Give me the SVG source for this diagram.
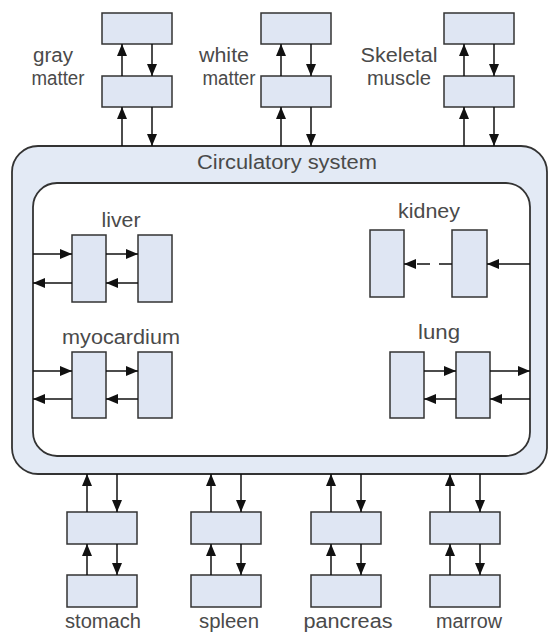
<svg xmlns="http://www.w3.org/2000/svg" width="549" height="635" viewBox="0 0 549 635">
<defs>
<marker id="ah" markerUnits="userSpaceOnUse" markerWidth="13" markerHeight="11" refX="12" refY="5" orient="auto">
<path d="M0,0 L12,5 L0,10 z" fill="#111"/>
</marker>
<style>
.box{fill:#dfe6f3;stroke:#333;stroke-width:1.5}
.band{fill:#e3eaf5;stroke:#333;stroke-width:1.8}
.inner{fill:#fff;stroke:#333;stroke-width:1.8}
.c line{stroke:#111;stroke-width:1.5;marker-end:url(#ah)}
.c line.d{stroke-dasharray:13,9}
text{font-family:"Liberation Sans",Arial,sans-serif;font-size:20px;fill:#4a4a4a;text-anchor:middle}
</style>
</defs>
<rect width="549" height="635" fill="#fff"/>

<g id="circulatory">
<rect class="band" x="12" y="146" width="535" height="328" rx="26"/>
<rect class="inner" x="33" y="183" width="497" height="273" rx="24"/>
<text x="287" y="169" textLength="180" lengthAdjust="spacingAndGlyphs">Circulatory system</text>
</g>

<g id="gray-matter">
<rect class="box" x="102" y="13" width="70" height="31"/>
<rect class="box" x="102" y="76" width="70" height="31"/>
<text x="53" y="62" textLength="40" lengthAdjust="spacingAndGlyphs">gray</text>
<text x="58" y="85" textLength="53" lengthAdjust="spacingAndGlyphs">matter</text>
</g>
<g id="white-matter">
<rect class="box" x="261" y="13" width="70" height="31"/>
<rect class="box" x="261" y="76" width="70" height="31"/>
<text x="224" y="62" textLength="50" lengthAdjust="spacingAndGlyphs">white</text>
<text x="229" y="85" textLength="53" lengthAdjust="spacingAndGlyphs">matter</text>
</g>
<g id="skeletal-muscle">
<rect class="box" x="444" y="13" width="70" height="31"/>
<rect class="box" x="444" y="76" width="70" height="31"/>
<text x="399" y="62" textLength="77" lengthAdjust="spacingAndGlyphs">Skeletal</text>
<text x="399" y="85" textLength="64" lengthAdjust="spacingAndGlyphs">muscle</text>
</g>

<g id="liver">
<rect class="box" x="72" y="235" width="34" height="67"/>
<rect class="box" x="138" y="235" width="34" height="67"/>
<text x="121" y="227" textLength="39" lengthAdjust="spacingAndGlyphs">liver</text>
</g>
<g id="myocardium">
<rect class="box" x="72" y="352" width="34" height="66"/>
<rect class="box" x="138" y="352" width="34" height="66"/>
<text x="121" y="344" textLength="118" lengthAdjust="spacingAndGlyphs">myocardium</text>
</g>
<g id="kidney">
<rect class="box" x="370" y="230" width="34" height="67"/>
<rect class="box" x="452" y="230" width="35" height="67"/>
<text x="429" y="218" textLength="62" lengthAdjust="spacingAndGlyphs">kidney</text>
</g>
<g id="lung">
<rect class="box" x="390" y="352" width="34" height="66"/>
<rect class="box" x="456" y="352" width="34" height="66"/>
<text x="439" y="339" textLength="42" lengthAdjust="spacingAndGlyphs">lung</text>
</g>

<g id="stomach">
<rect class="box" x="67" y="512" width="70" height="32"/>
<rect class="box" x="67" y="575" width="70" height="32"/>
<text x="103" y="628" textLength="76" lengthAdjust="spacingAndGlyphs">stomach</text>
</g>
<g id="spleen">
<rect class="box" x="191" y="512" width="70" height="32"/>
<rect class="box" x="191" y="575" width="70" height="32"/>
<text x="229" y="628" textLength="60" lengthAdjust="spacingAndGlyphs">spleen</text>
</g>
<g id="pancreas">
<rect class="box" x="311" y="512" width="70" height="32"/>
<rect class="box" x="311" y="575" width="70" height="32"/>
<text x="348" y="628" textLength="89" lengthAdjust="spacingAndGlyphs">pancreas</text>
</g>
<g id="marrow">
<rect class="box" x="430" y="512" width="70" height="32"/>
<rect class="box" x="430" y="575" width="70" height="32"/>
<text x="469" y="628" textLength="66" lengthAdjust="spacingAndGlyphs">marrow</text>
</g>

<g id="connectors" class="c">
<!-- top -->
<line x1="122" y1="76" x2="122" y2="44"/>
<line x1="152" y1="44" x2="152" y2="76"/>
<line x1="122" y1="146" x2="122" y2="107"/>
<line x1="152" y1="107" x2="152" y2="146"/>
<line x1="281" y1="76" x2="281" y2="44"/>
<line x1="311" y1="44" x2="311" y2="76"/>
<line x1="281" y1="146" x2="281" y2="107"/>
<line x1="311" y1="107" x2="311" y2="146"/>
<line x1="464" y1="76" x2="464" y2="44"/>
<line x1="494" y1="44" x2="494" y2="76"/>
<line x1="464" y1="146" x2="464" y2="107"/>
<line x1="494" y1="107" x2="494" y2="146"/>
<!-- liver -->
<line x1="33" y1="254" x2="72" y2="254"/>
<line x1="106" y1="254" x2="138" y2="254"/>
<line x1="138" y1="283" x2="106" y2="283"/>
<line x1="72" y1="283" x2="33" y2="283"/>
<!-- myocardium -->
<line x1="33" y1="371" x2="72" y2="371"/>
<line x1="106" y1="371" x2="138" y2="371"/>
<line x1="138" y1="399" x2="106" y2="399"/>
<line x1="72" y1="399" x2="33" y2="399"/>
<!-- kidney -->
<line class="d" x1="452" y1="264" x2="404" y2="264"/>
<line x1="530" y1="264" x2="487" y2="264"/>
<!-- lung -->
<line x1="424" y1="371" x2="456" y2="371"/>
<line x1="490" y1="371" x2="530" y2="371"/>
<line x1="530" y1="399" x2="490" y2="399"/>
<line x1="456" y1="399" x2="424" y2="399"/>
<!-- bottom -->
<line x1="87" y1="512" x2="87" y2="474"/>
<line x1="117" y1="474" x2="117" y2="512"/>
<line x1="87" y1="575" x2="87" y2="544"/>
<line x1="117" y1="544" x2="117" y2="575"/>
<line x1="211" y1="512" x2="211" y2="474"/>
<line x1="241" y1="474" x2="241" y2="512"/>
<line x1="211" y1="575" x2="211" y2="544"/>
<line x1="241" y1="544" x2="241" y2="575"/>
<line x1="331" y1="512" x2="331" y2="474"/>
<line x1="361" y1="474" x2="361" y2="512"/>
<line x1="331" y1="575" x2="331" y2="544"/>
<line x1="361" y1="544" x2="361" y2="575"/>
<line x1="450" y1="512" x2="450" y2="474"/>
<line x1="480" y1="474" x2="480" y2="512"/>
<line x1="450" y1="575" x2="450" y2="544"/>
<line x1="480" y1="544" x2="480" y2="575"/>
</g>
</svg>
